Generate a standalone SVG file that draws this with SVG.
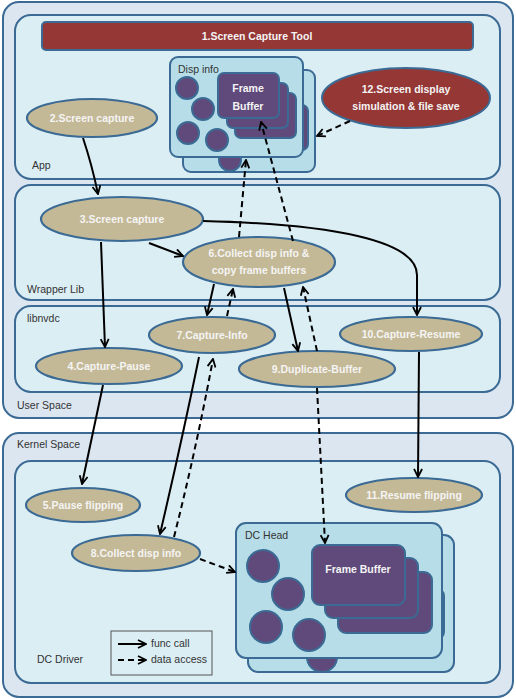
<svg xmlns="http://www.w3.org/2000/svg" width="516" height="699" viewBox="0 0 516 699">
<defs>
<style>
.outer{fill:#dce6f1;stroke:#3b6a94;stroke-width:2}
.inner{fill:#dbeef4;stroke:#3b6a94;stroke-width:2}
.lbl{font-family:"Liberation Sans",Arial,sans-serif;font-size:10.5px;fill:#333}
.node{fill:#c4b996;stroke:#3b6a94;stroke-width:2.2}
.red{fill:#953735;stroke:#3b6a94;stroke-width:2}
.nt{font-family:"Liberation Sans",Arial,sans-serif;font-size:10.5px;font-weight:bold;fill:#f4f4f4;text-anchor:middle;dominant-baseline:central}
.disp{fill:#b7dee8;stroke:#3b6a94;stroke-width:2}
.pur{fill:#604a7b;stroke:#3b6a94;stroke-width:2}
.solid{fill:none;stroke:#000;stroke-width:2;marker-end:url(#ah)}
.dash{fill:none;stroke:#000;stroke-width:2;stroke-dasharray:6,4;marker-end:url(#ah)}
</style>
<marker id="ah" viewBox="0 0 10 10" refX="9" refY="5" markerWidth="10" markerHeight="10" markerUnits="userSpaceOnUse" orient="auto">
<path d="M1,1 L9,5 L1,9" fill="none" stroke="#000" stroke-width="1.8"/>
</marker>
</defs>

<g id="user-space">
<rect class="outer" x="3" y="2" width="510" height="416" rx="16"/>
<text class="lbl" x="17" y="409">User Space</text>
</g>
<g id="app">
<rect class="inner" x="15" y="15" width="485" height="164" rx="16"/>
<text class="lbl" x="32" y="169">App</text>
</g>
<g id="wrapper-lib">
<rect class="inner" x="15" y="185" width="485" height="115" rx="16"/>
<text class="lbl" x="27" y="293">Wrapper Lib</text>
</g>
<g id="libnvdc">
<rect class="inner" x="15" y="306" width="485" height="86" rx="16"/>
<text class="lbl" x="27" y="322">libnvdc</text>
</g>
<g id="kernel-space">
<rect class="outer" x="3" y="433" width="510" height="264" rx="16"/>
<text class="lbl" x="17" y="448">Kernel Space</text>
</g>
<g id="dc-driver">
<rect class="inner" x="15" y="461" width="485" height="222" rx="16"/>
<text class="lbl" x="37" y="663">DC Driver</text>
</g>

<g id="n1">
<rect class="red" x="42" y="22" width="431" height="28" rx="4"/>
<text class="nt" x="257" y="36">1.Screen Capture Tool</text>
</g>

<g id="disp-info">
<rect class="disp" x="183" y="70" width="132" height="102" rx="8"/>
<circle class="pur" cx="230" cy="160" r="11"/>
<rect class="pur" x="245" y="105" width="63" height="45" rx="6"/>
<rect class="disp" x="170" y="57" width="133" height="100" rx="8"/>
<text class="lbl" x="178" y="73">Disp info</text>
<circle class="pur" cx="187" cy="88" r="11"/>
<circle class="pur" cx="203" cy="109" r="11"/>
<circle class="pur" cx="188" cy="133" r="11"/>
<circle class="pur" cx="217" cy="140" r="11"/>
<rect class="pur" x="235" y="93" width="61" height="45" rx="6"/>
<rect class="pur" x="227" y="83" width="61" height="45" rx="6"/>
<rect class="pur" x="218" y="73" width="61" height="45" rx="6"/>
<text class="nt" x="248" y="88">Frame</text>
<text class="nt" x="248" y="106">Buffer</text>
</g>

<g id="n12">
<ellipse class="red" cx="406" cy="98" rx="84" ry="30"/>
<text class="nt" x="406" y="89">12.Screen display</text>
<text class="nt" x="406" y="106">simulation &amp; file save</text>
</g>

<g id="n2"><ellipse class="node" cx="92" cy="118" rx="65" ry="19"/><text class="nt" x="92" y="118">2.Screen capture</text></g>
<g id="n3"><ellipse class="node" cx="122" cy="219" rx="81" ry="22"/><text class="nt" x="122" y="219">3.Screen capture</text></g>
<g id="n6"><ellipse class="node" cx="259" cy="262" rx="76" ry="25"/><text class="nt" x="259" y="253">6.Collect disp info &amp;</text><text class="nt" x="259" y="270">copy frame buffers</text></g>
<g id="n7"><ellipse class="node" cx="212" cy="335" rx="63" ry="18"/><text class="nt" x="212" y="335">7.Capture-Info</text></g>
<g id="n4"><ellipse class="node" cx="109" cy="366" rx="73" ry="18"/><text class="nt" x="109" y="366">4.Capture-Pause</text></g>
<g id="n9"><ellipse class="node" cx="317" cy="369" rx="78" ry="18"/><text class="nt" x="317" y="369">9.Duplicate-Buffer</text></g>
<g id="n10"><ellipse class="node" cx="411" cy="334" rx="71" ry="17"/><text class="nt" x="411" y="334">10.Capture-Resume</text></g>
<g id="n5"><ellipse class="node" cx="83" cy="505" rx="57" ry="17"/><text class="nt" x="83" y="505">5.Pause flipping</text></g>
<g id="n11"><ellipse class="node" cx="414" cy="495" rx="68" ry="17"/><text class="nt" x="414" y="495">11.Resume flipping</text></g>
<g id="n8"><ellipse class="node" cx="136" cy="553" rx="64" ry="18"/><text class="nt" x="136" y="553">8.Collect disp info</text></g>

<g id="dc-head">
<rect class="disp" x="248" y="535" width="206" height="137" rx="10"/>
<circle class="pur" cx="322" cy="657" r="15"/>
<rect class="pur" x="350" y="588" width="94" height="52" rx="8"/>
<rect class="disp" x="236" y="523" width="206" height="135" rx="10"/>
<text class="lbl" x="245" y="539">DC Head</text>
<circle class="pur" cx="263" cy="566" r="16"/>
<circle class="pur" cx="288" cy="594" r="16"/>
<circle class="pur" cx="266" cy="627" r="16"/>
<circle class="pur" cx="309" cy="635" r="16"/>
<rect class="pur" x="338" y="572" width="94" height="61" rx="8"/>
<rect class="pur" x="325" y="558" width="93" height="60" rx="8"/>
<rect class="pur" x="312" y="545" width="93" height="60" rx="8"/>
<text class="nt" x="358" y="569">Frame Buffer</text>
</g>

<g id="legend">
<rect x="111" y="631" width="101" height="44" fill="#dbeef4" stroke="#555" stroke-width="1"/>
<line class="solid" x1="118" y1="644" x2="146" y2="644"/>
<line class="dash" x1="118" y1="660" x2="146" y2="660"/>
<text class="lbl" x="151" y="647">func call</text>
<text class="lbl" x="151" y="663">data access</text>
</g>

<g id="connectors">
<path class="solid" d="M83,138 Q92,165 98,194"/>
<path class="solid" d="M101,242 L105,347"/>
<path class="solid" d="M149,243 L183,256"/>
<path class="solid" d="M203,221 C330,224 417,240 417,275 L417,315"/>
<path class="solid" d="M214,284 L207,315"/>
<path class="dash" d="M227,316 L233,289"/>
<path class="solid" d="M284,288 L298,351"/>
<path class="dash" d="M317,351 L303,287"/>
<path class="dash" d="M239,237 L246,160"/>
<path class="dash" d="M293,241 L261,122"/>
<path class="dash" d="M350,121 L317,136"/>
<path class="solid" d="M199,357 Q182,440 160,534"/>
<path class="dash" d="M174,537 Q196,450 213,359"/>
<path class="solid" d="M103,385 L82,484"/>
<path class="dash" d="M317,388 L325,543"/>
<path class="solid" d="M419,352 L418,477"/>
<path class="dash" d="M200,559 L235,572"/>
</g>
</svg>
